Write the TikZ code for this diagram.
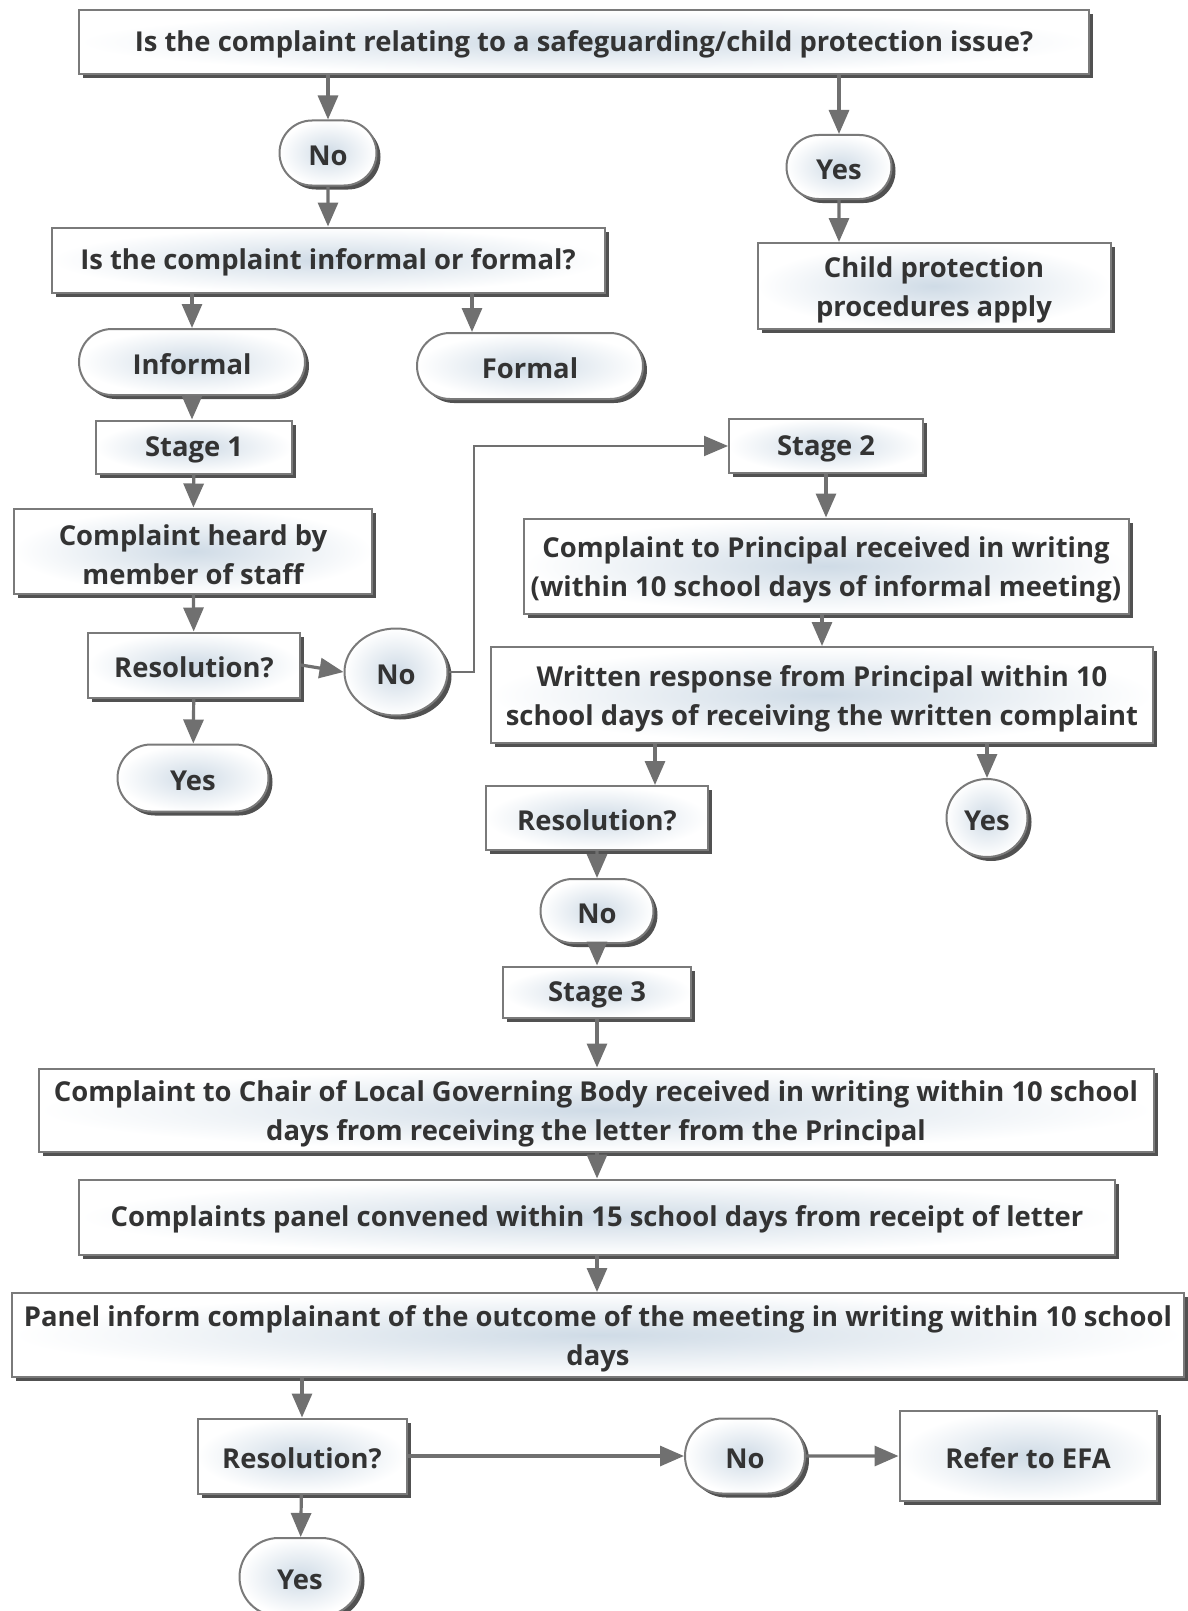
\documentclass[tikz,border=0pt]{standalone}
\usepackage{fontspec}
\setmainfont{Open Sans}
\usepackage{tikz}
\usetikzlibrary{positioning, calc, shapes, shadows, arrows.meta}

\definecolor{boxline}{HTML}{7A7A7A}
\definecolor{boxfill}{HTML}{CFDBE6}
\definecolor{arrowgray}{HTML}{707070}
\definecolor{txtgray}{HTML}{333333}

\begin{document}
\begin{tikzpicture}[x=0.5pt, y=-0.5pt
    , every node/.style={font=\fontsize{13.7}{19.5}\selectfont\bfseries, text=txtgray, align=center, inner sep=0pt,
        execute at begin node={\rule{0pt}{12.8pt}}}
    , box/.style={rectangle, draw=boxline, line width=1pt, shading=radial, inner color=boxfill, outer color=white,
        drop shadow={shadow xshift=2pt, shadow yshift=-2pt, fill=black!80, opacity=0.85}}
    , twoline/.style={execute at begin node={\rule{0pt}{34pt}}}
    , oval/.style={box, rounded rectangle}
    , roundish/.style={box, ellipse}
    , arr/.style={-{Triangle[length=12pt, width=10pt]}, line width=1.6pt, draw=arrowgray}
    , thinarr/.style={-{Triangle[length=12pt, width=10pt]}, line width=1pt, draw=arrowgray}
    ]

    \useasboundingbox (0,0) rectangle (1188,1611);

    \node[box, minimum width=505pt, minimum height=32pt] (safeq) at (584,42)
        {Is the complaint relating to a safeguarding/child protection issue?};
    \node[oval, minimum width=48.5pt, minimum height=32.5pt] (no1) at (328,153) {No};
    \node[oval, minimum width=52.5pt, minimum height=32pt] (yes1) at (839,167) {Yes};
    \node[box, minimum width=276.5pt, minimum height=32.5pt] (formq) at (328,260)
        {Is the complaint informal or formal?};
    \node[box, twoline, minimum width=176.5pt, minimum height=43pt] (child) at (934,286)
        {Child protection\\procedures apply};
    \node[oval, minimum width=113pt, minimum height=33pt] (informal) at (192,362) {Informal};
    \node[oval, minimum width=113pt, minimum height=33pt] (formal) at (530,366) {Formal};

    % Stage 1
    \node[box, minimum width=98pt, minimum height=26.5pt] (stage1) at (194,447) {Stage 1};
    \node[box, twoline, minimum width=179pt, minimum height=42.5pt] (heard) at (193,551)
        {Complaint heard by\\member of staff};
    \node[box, minimum width=106pt, minimum height=32.5pt] (res1) at (194,665) {Resolution?};
    \node[roundish, minimum width=51.5pt, minimum height=43.5pt] (no2) at (396,672) {No};
    \node[oval, minimum width=75.5pt, minimum height=33.5pt] (yes2) at (193,778) {Yes};

    % Stage 2
    \node[box, minimum width=97pt, minimum height=27pt] (stage2) at (826,446) {Stage 2};
    \node[box, twoline, minimum width=302.5pt, minimum height=47.5pt] (principal) at (826,566)
        {Complaint to Principal received in writing\\(within 10 school days of informal meeting)};
    \node[box, twoline, minimum width=331pt, minimum height=48pt] (response) at (822,695)
        {Written response from Principal within 10\\school days of receiving the written complaint};
    \node[box, minimum width=111pt, minimum height=32pt] (res2) at (597,818) {Resolution?};
    \node[roundish, minimum width=40.5pt, minimum height=39pt] (yes3) at (987,818) {Yes};
    \node[oval, minimum width=56.5pt, minimum height=32pt] (no3) at (597,911) {No};

    % Stage 3
    \node[box, minimum width=94pt, minimum height=25.5pt] (stage3) at (597,992) {Stage 3};
    \node[box, twoline, minimum width=557.5pt, minimum height=41.5pt] (chair) at (596,1110)
        {Complaint to Chair of Local Governing Body received in writing within 10 school\\days from receiving the letter from the Principal};
    \node[box, minimum width=518pt, minimum height=37.5pt] (panel) at (597,1217)
        {Complaints panel convened within 15 school days from receipt of letter};
    \node[box, twoline, minimum width=586pt, minimum height=42pt] (inform) at (598,1335)
        {Panel inform complainant of the outcome of the meeting in writing within 10 school\\days};
    \node[box, minimum width=104.5pt, minimum height=37.5pt] (res3) at (302,1456) {Resolution?};
    \node[oval, minimum width=60pt, minimum height=37.5pt] (no4) at (745,1456) {No};
    \node[box, minimum width=128.5pt, minimum height=45pt] (efa) at (1028,1456) {Refer to EFA};
    \node[oval, minimum width=60.5pt, minimum height=39pt] (yes4) at (300,1577) {Yes};

    \draw[arr] (safeq.south -| no1.north) -- (no1.north);
    \draw[arr] (safeq.south -| yes1.north) -- (yes1.north);
    \draw[arr] (no1) -- (formq.north -| no1.south);
    \draw[arr] (yes1) -- (child.north -| yes1.south);
    \draw[arr] (formq.south -| informal.north) -- (informal.north);
    \draw[arr] ([xshift=-29pt]formal.north |- formq.south) -- ([xshift=-29pt]formal.north);

    \draw[arr] (informal) -- (stage1.north -| informal.south);
    \draw[arr] (stage1) -- (heard);
    \draw[arr] (heard) -- (res1);
    \draw[arr] (res1) -- (yes2);
    \draw[arr] (res1.east) -- (no2.west);

    % No at stage 1 goes on to stage 2
    \draw[thinarr] (no2.east) -- ++(25,0) |- (stage2.west);

    \draw[arr] (stage2) -- (principal);
    \draw[arr] (principal.south -| response.north) -- (response.north);
    \draw[arr] ([xshift=29pt]res2.north |- response.south) -- ([xshift=29pt]res2.north);
    \draw[arr] (response.south -| yes3.north) -- (yes3.north);
    \draw[arr] (res2) -- (no3);
    \draw[arr] (no3) -- (stage3);

    \draw[arr] (stage3) -- (chair.north -| stage3.south);
    \draw[arr] (chair.south -| stage3.south) -- (panel.north -| stage3.south);
    \draw[arr] (panel.south -| stage3.south) -- (inform.north -| stage3.south);
    \draw[arr] (inform.south -| res3.north) -- (res3.north);
    \draw[arr] (res3) -- (no4);
    \draw[arr] (no4) -- (efa);
    \draw[arr] (res3) -- (yes4);

\end{tikzpicture}
\end{document}
